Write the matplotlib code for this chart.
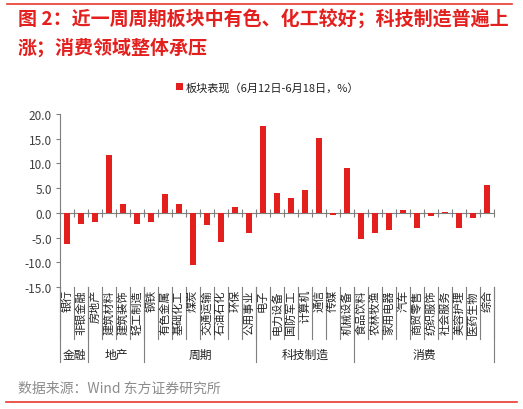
import numpy as np
import matplotlib
matplotlib.use("Agg")
import matplotlib.pyplot as plt
from matplotlib.lines import Line2D

plt.rcParams['font.family'] = ['Noto Sans CJK SC', 'DejaVu Sans']
plt.rcParams['axes.unicode_minus'] = False

sectors = ['银行', '非银金融', '房地产', '建筑材料', '建筑装饰', '轻工制造',
           '钢铁', '有色金属', '基础化工', '煤炭', '交通运输', '石油石化', '环保', '公用事业',
           '电子', '电力设备', '国防军工', '计算机', '通信', '传媒', '机械设备',
           '食品饮料', '农林牧渔', '家用电器', '汽车', '商贸零售', '纺织服饰', '社会服务',
           '美容护理', '医药生物', '综合']
values = [-6.3, -2.2, -1.8, 11.7, 1.8, -2.2,
          -1.8, 3.9, 1.8, -10.6, -2.4, -5.8, 1.15, -4.1,
          17.6, 4.1, 3.1, 4.7, 15.1, -0.5, 9.1,
          -5.3, -4.1, -3.5, 0.6, -3.1, -0.7, 0.1, -3.1, -1.1, 5.7]
groups = ['金融', '地产', '周期', '科技制造', '消费']
group_sizes = [2, 4, 8, 7, 10]

RED = '#E3201E'
GRAY = '#7f7f7f'
TXT = '#404040'

fig = plt.figure(figsize=(5.23, 4.10), dpi=100)
ax = fig.add_axes([60/523, 1-288/410, 434/523, 173/410])

x = np.arange(len(sectors))
ax.bar(x, values, width=0.45, color=RED, label='板块表现（6月12日-6月18日，%）', zorder=3)
ax.set_xlim(-0.5, len(sectors) - 0.5)
ax.set_ylim(-15, 20)
ax.set_yticks(np.arange(-15, 21, 5))
ax.set_yticklabels([f'{v:.1f}' for v in np.arange(-15, 21, 5)])
ax.tick_params(axis='y', length=3, color=GRAY, labelsize=8.5, labelcolor=TXT, pad=3)

for s in ['top', 'right']:
    ax.spines[s].set_visible(False)
ax.spines['left'].set_color(GRAY)
ax.spines['bottom'].set_position(('data', 0))
ax.spines['bottom'].set_color(GRAY)
ax.set_xticks(np.arange(len(sectors) + 1) - 0.5)
ax.set_xticklabels([])
ax.tick_params(axis='x', direction='inout', length=6, color=GRAY)

tr = ax.get_xaxis_transform()
# category labels and separators under the plot
for i, name in enumerate(sectors):
    ax.text(i, -0.012, name, rotation=90, ha='center', va='top', fontsize=8,
            color='#222222', transform=tr, clip_on=False)
for b in np.arange(len(sectors) + 1) - 0.5:
    ax.plot([b, b], [0, -0.30], color=GRAY, lw=0.8, transform=tr, clip_on=False)

edges = np.concatenate([[0], np.cumsum(group_sizes)]) - 0.5
for b in edges:
    ax.plot([b, b], [0, -0.434], color=GRAY, lw=0.8, transform=tr, clip_on=False)
for g, a, b in zip(groups, edges[:-1], edges[1:]):
    ax.text((a + b) / 2, -0.388, g, ha='center', va='center', fontsize=8.5,
            color='#222222', transform=tr, clip_on=False)

ax.legend(loc='center left', bbox_to_anchor=(166/523, 1-88/410), bbox_transform=fig.transFigure,
          frameon=False, fontsize=8, handlelength=0.6, handleheight=0.6, handletextpad=0.3,
          labelcolor='#222222')

fig.text(18/523, 1-20/410, '图 2：近一周周期板块中有色、化工较好；科技制造普遍上',
         color=RED, fontsize=13.7, fontweight='bold', va='center', ha='left')
fig.text(18/523, 1-48/410, '涨；消费领域整体承压',
         color=RED, fontsize=13.7, fontweight='bold', va='center', ha='left')
fig.text(18/523, 1-389/410, '数据来源：Wind 东方证券研究所', color='#8c8c8c', fontsize=10,
         va='center', ha='left')

fig.add_artist(Line2D([7/523, 512/523], [1-5/410, 1-5/410], color='#E8382F', lw=1.2))
fig.add_artist(Line2D([6/523, 517/523], [1-403/410, 1-403/410], color='#E8382F', lw=1.2))

fig.savefig('out.png', dpi=100)
